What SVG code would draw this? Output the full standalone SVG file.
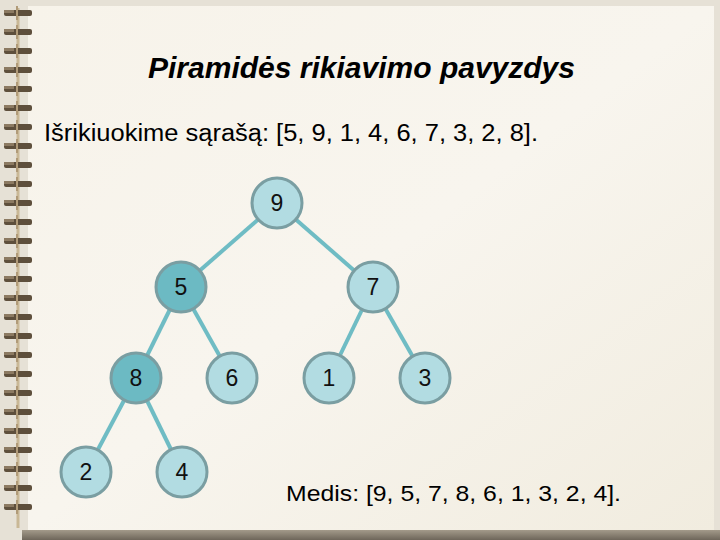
<svg xmlns="http://www.w3.org/2000/svg" width="720" height="540" viewBox="0 0 720 540">
<defs>
<linearGradient id="paper" x1="0" y1="0" x2="1" y2="1">
<stop offset="0" stop-color="#f7f3ea"/>
<stop offset="0.5" stop-color="#f8f5ee"/>
<stop offset="1" stop-color="#f1ecdf"/>
</linearGradient>
<linearGradient id="shadow" x1="0" y1="0" x2="0" y2="1">
<stop offset="0" stop-color="#a39a8a"/>
<stop offset="1" stop-color="#6e665a"/>
</linearGradient>
<g id="ring">
<rect x="4" y="-3" width="28" height="6" rx="2" fill="#5e4f3c"/>
<rect x="4" y="-3" width="10" height="3" fill="#8c7a62"/>
<line x1="17" y1="-7" x2="17" y2="7" stroke="#b09a78" stroke-width="2"/>
</g>
</defs>
<style>
.edge{stroke:#6fbcc4;stroke-width:4;fill:none}
.n circle{stroke:#7a9ea2;stroke-width:3;fill:#b2dce2}
.n.d circle{fill:#6cbac3}
.n text{font-family:"Liberation Sans",Arial,sans-serif;font-size:23px;fill:#111;text-anchor:middle}
.t{font-family:"Liberation Sans",Arial,sans-serif;fill:#000}
</style>
<rect width="720" height="540" fill="#e6e1d6"/>
<rect x="28" y="6" width="686" height="524" fill="url(#paper)"/>
<rect x="22" y="530" width="698" height="10" fill="url(#shadow)"/>
<line x1="18" y1="8" x2="18" y2="528" stroke="#c9b896" stroke-width="3"/>
<g id="spiral">
<use href="#ring" y="13"/><use href="#ring" y="32"/><use href="#ring" y="51"/><use href="#ring" y="70"/><use href="#ring" y="89"/><use href="#ring" y="108"/><use href="#ring" y="127"/><use href="#ring" y="146"/><use href="#ring" y="165"/><use href="#ring" y="184"/><use href="#ring" y="203"/><use href="#ring" y="222"/><use href="#ring" y="241"/><use href="#ring" y="260"/><use href="#ring" y="279"/><use href="#ring" y="298"/><use href="#ring" y="317"/><use href="#ring" y="336"/><use href="#ring" y="355"/><use href="#ring" y="374"/><use href="#ring" y="393"/><use href="#ring" y="412"/><use href="#ring" y="431"/><use href="#ring" y="450"/><use href="#ring" y="469"/><use href="#ring" y="488"/><use href="#ring" y="507"/>
</g>
<text class="t" x="148" y="78" font-size="29" font-weight="bold" font-style="italic" textLength="427" lengthAdjust="spacingAndGlyphs">Piramidės rikiavimo pavyzdys</text>
<text class="t" x="44" y="141" font-size="23" textLength="494" lengthAdjust="spacingAndGlyphs">Išrikiuokime sąrašą: [5, 9, 1, 4, 6, 7, 3, 2, 8].</text>
<text class="t" x="286" y="501" font-size="22" textLength="335" lengthAdjust="spacingAndGlyphs">Medis: [9, 5, 7, 8, 6, 1, 3, 2, 4].</text>
<g id="connectors">
<line class="edge" x1="277" y1="203" x2="181" y2="287"/>
<line class="edge" x1="277" y1="203" x2="373" y2="287"/>
<line class="edge" x1="181" y1="287" x2="136" y2="378"/>
<line class="edge" x1="181" y1="287" x2="232" y2="378"/>
<line class="edge" x1="373" y1="287" x2="329" y2="378"/>
<line class="edge" x1="373" y1="287" x2="425" y2="378"/>
<line class="edge" x1="136" y1="378" x2="86" y2="472"/>
<line class="edge" x1="136" y1="378" x2="182" y2="472"/>
</g>
<g id="n9" class="n"><circle cx="277" cy="203" r="25"/><text x="277" y="211">9</text></g>
<g id="n5" class="n d"><circle cx="181" cy="287" r="25"/><text x="181" y="295">5</text></g>
<g id="n7" class="n"><circle cx="373" cy="287" r="25"/><text x="373" y="295">7</text></g>
<g id="n8" class="n d"><circle cx="136" cy="378" r="25"/><text x="136" y="386">8</text></g>
<g id="n6" class="n"><circle cx="232" cy="378" r="25"/><text x="232" y="386">6</text></g>
<g id="n1" class="n"><circle cx="329" cy="378" r="25"/><text x="329" y="386">1</text></g>
<g id="n3" class="n"><circle cx="425" cy="378" r="25"/><text x="425" y="386">3</text></g>
<g id="n2" class="n"><circle cx="86" cy="472" r="25"/><text x="86" y="480">2</text></g>
<g id="n4" class="n"><circle cx="182" cy="472" r="25"/><text x="182" y="480">4</text></g>
</svg>
